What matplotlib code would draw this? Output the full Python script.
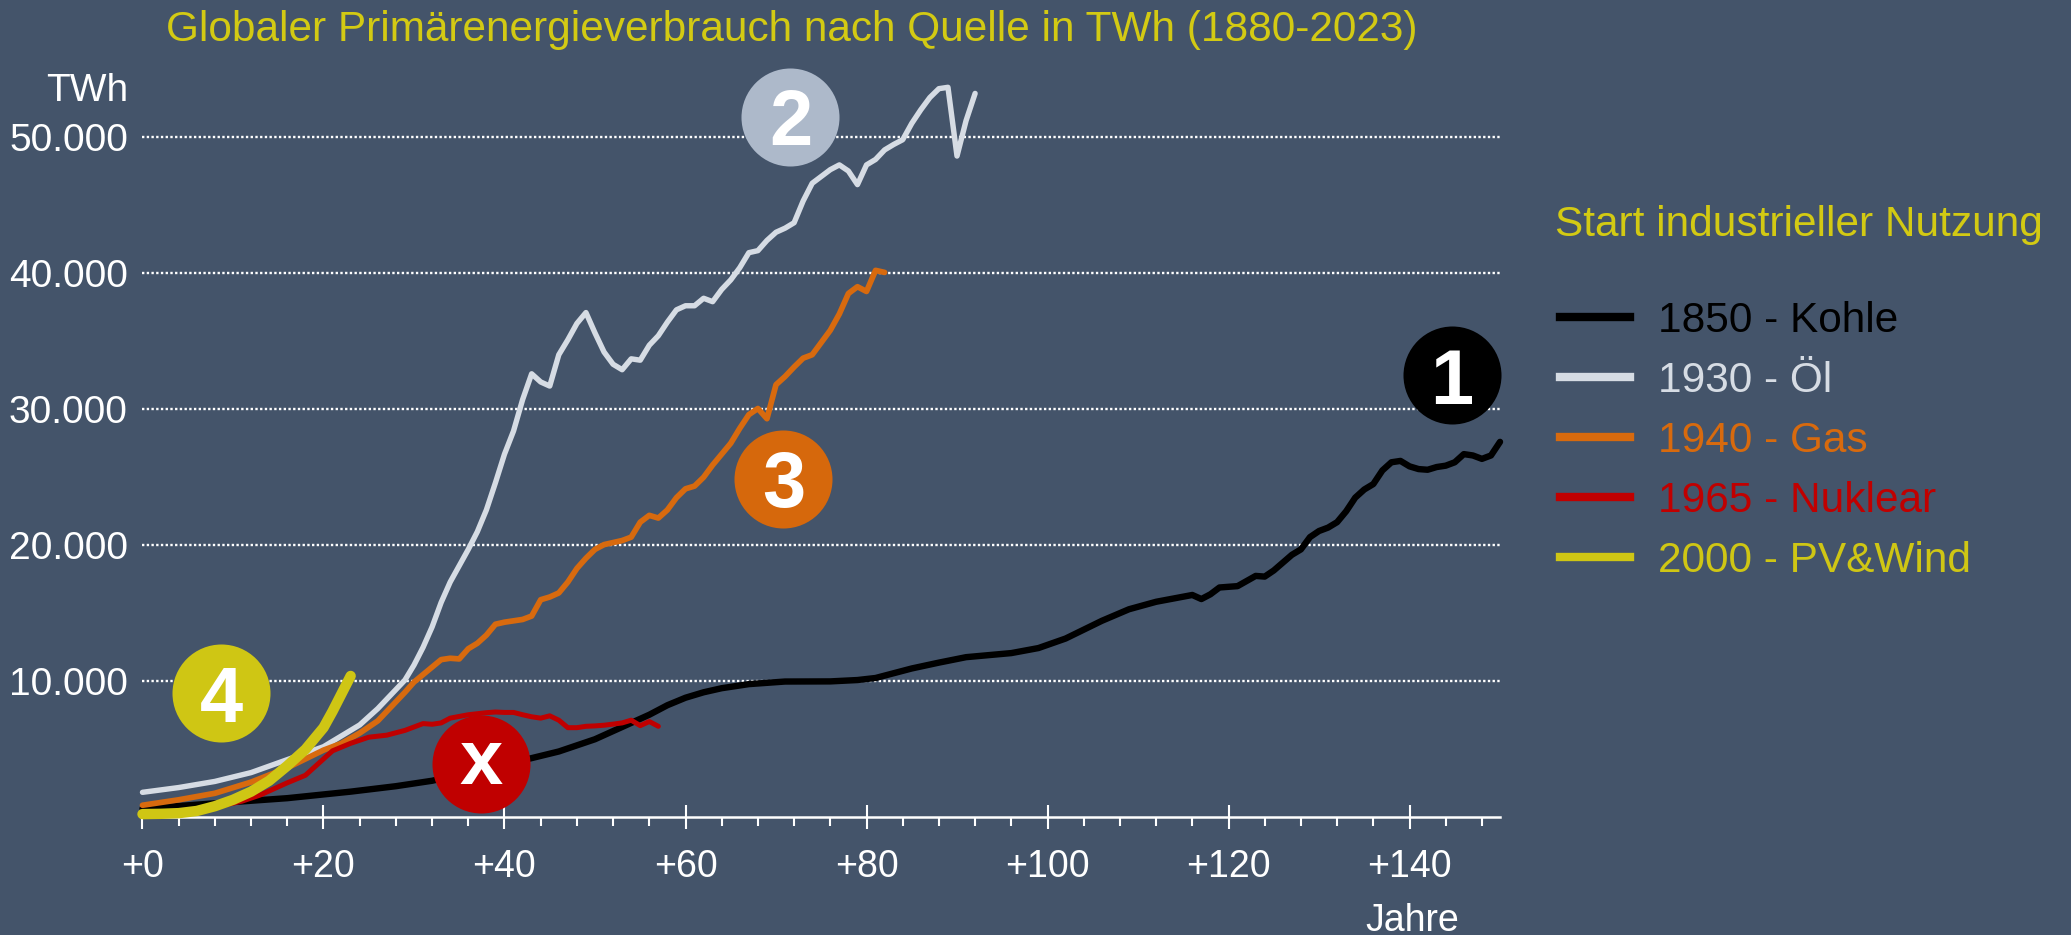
"""Globaler Primaerenergieverbrauch nach Quelle, ab Start der industriellen Nutzung."""

import matplotlib

matplotlib.use("Agg")
import matplotlib.pyplot as plt  # noqa: E402
from matplotlib.lines import Line2D  # noqa: E402
from matplotlib.ticker import FuncFormatter, MultipleLocator  # noqa: E402

# Jahre seit Start der Nutzung -> Verbrauch in TWh
coal_years = [0, 8, 16, 23, 28, 32, 36, 40, 42, 46, 50, 53, 56, 58, 60, 62, 64, 67,
              71, 76, 79, 81, 83, 85, 88, 91, 96, 99, 102, 106, 109, 112, 114, 116,
              117, 118, 119, 121, 123, 124, 125, 127, 128, 129, 130, 131, 132, 133,
              134, 135, 136, 137, 138, 139, 140, 141, 142, 143, 144, 145, 146, 147,
              148, 149, 150]
coal_twh = [650, 1040, 1420, 1900, 2300, 2700, 3300, 3900, 4200, 4850, 5750, 6650,
            7550, 8250, 8800, 9200, 9500, 9800, 9990, 10000, 10100, 10250, 10600,
            10950, 11380, 11780, 12080, 12450, 13150, 14450, 15300, 15850, 16100,
            16350, 16050, 16400, 16900, 17000, 17750, 17700, 18150, 19300, 19700,
            20600, 21050, 21300, 21700, 22500, 23500, 24100, 24500, 25500, 26100,
            26200, 25800, 25600, 25550, 25750, 25850, 26100, 26700, 26600, 26350,
            26600, 27600]

oil_years = [0, 4, 8, 12, 16, 20, 22, 24, 26, 27, 28, 29, 30, 31, 32, 33, 34, 35, 36,
             37, 38, 39, 40, 41, 42, 43, 44, 45, 46, 47, 48, 49, 50, 51, 52, 53, 54,
             55, 56, 57, 58, 59, 60, 61, 62, 63, 64, 65, 66, 67, 68, 69, 70, 71, 72,
             73, 74, 75, 76, 77, 78, 79, 80, 81, 82, 83, 84, 85, 86, 87, 88, 89, 90,
             91, 92]
oil_twh = [1850, 2200, 2650, 3300, 4250, 5200, 6000, 6800, 8000, 8700, 9400, 10100,
           11200, 12500, 14000, 15800, 17300, 18500, 19700, 21000, 22600, 24600,
           26700, 28400, 30700, 32600, 32000, 31700, 34000, 35100, 36300, 37100,
           35600, 34200, 33300, 32900, 33700, 33600, 34700, 35400, 36400, 37300,
           37600, 37600, 38150, 37900, 38800, 39500, 40400, 41500, 41650, 42400,
           43000, 43300, 43700, 45300, 46600, 47100, 47600, 47950, 47500, 46500,
           47950, 48350, 49050, 49450, 49800, 51000, 52000, 52900, 53550, 53650,
           48600, 51200, 53200]

gas_years = [0, 4, 8, 12, 16, 18, 20, 22, 24, 26, 28, 29, 30, 31, 32, 33, 34, 35, 36,
             37, 38, 39, 40, 41, 42, 43, 44, 45, 46, 47, 48, 49, 50, 51, 52, 53, 54,
             55, 56, 57, 58, 59, 60, 61, 62, 63, 64, 65, 66, 67, 68, 69, 70, 71, 72,
             73, 74, 75, 76, 77, 78, 79, 80, 81, 82]
gas_twh = [900, 1300, 1780, 2600, 3650, 4300, 4950, 5450, 6200, 7100, 8500, 9200,
           9950, 10500, 11050, 11600, 11700, 11650, 12400, 12800, 13400, 14200, 14350,
           14450, 14550, 14800, 16000, 16200, 16500, 17300, 18300, 19050, 19700, 20050,
           20200, 20350, 20600, 21700, 22200, 22000, 22600, 23500, 24150, 24350, 25000,
           25900, 26700, 27500, 28600, 29600, 30050, 29300, 31800, 32400, 33100, 33750,
           34000, 34900, 35800, 37000, 38500, 39000, 38650, 40200, 40050]

nuclear_years = [0, 3, 6, 9, 11, 13, 16, 18, 20, 21, 23, 25, 27, 29, 31, 32, 33, 34,
                 36, 38, 39, 40, 41, 42, 43, 44, 45, 46, 47, 48, 49, 50, 51, 52, 53,
                 54, 55, 56, 57]
nuclear_twh = [150, 300, 550, 900, 1200, 1650, 2550, 3100, 4300, 4900, 5450, 5900,
               6050, 6400, 6900, 6850, 6950, 7300, 7550, 7700, 7750, 7720, 7720, 7550,
               7400, 7300, 7470, 7150, 6600, 6600, 6700, 6730, 6780, 6860, 6950, 7150,
               6750, 7050, 6700]

pv_years = [0, 2, 4, 6, 8, 10, 12, 14, 16, 18, 20, 21, 22, 23]
pv_twh = [250, 270, 320, 480, 830, 1300, 1900, 2700, 3800, 5000, 6600, 7800, 9100, 10400]

labels = ["1850 - Kohle", "1930 - Öl", "1940 - Gas", "1965 - Nuklear", "2000 - PV&Wind"]
x_ticks = [0, 20, 40, 60, 80, 100, 120, 140]
y_ticks = [10000, 20000, 30000, 40000, 50000]

BG = "#44546A"
COAL = "#000000"
OIL = "#D6DCE4"
GAS = "#D86A0E"
NUC = "#C00000"
PV = "#CFC614"
TITLE = "#D3CA13"

plt.rcParams["font.family"] = ["Liberation Sans", "DejaVu Sans"]

fig = plt.figure(figsize=(20.71, 9.35), dpi=100, facecolor=BG)
ax = fig.add_axes([0.0688, 0.12567, 0.6555, 0.8006], facecolor=BG)

series = [
    (coal_years, coal_twh, COAL, 4.6),
    (oil_years, oil_twh, OIL, 3.9),
    (gas_years, gas_twh, GAS, 4.1),
    (nuclear_years, nuclear_twh, NUC, 3.6),
    (pv_years, pv_twh, PV, 7.5),
]
for xs, ys, color, lw in series:
    ax.plot(xs, ys, color=color, lw=lw, solid_capstyle="round",
            solid_joinstyle="round", zorder=3, clip_on=False)

ax.set_xlim(0, 150)
ax.set_ylim(0, 55000)

# Achsen
for side in ("left", "right", "top"):
    ax.spines[side].set_visible(False)
ax.spines["bottom"].set_color("white")
ax.spines["bottom"].set_linewidth(1.8)

ax.set_xticks(x_ticks)
ax.set_xticklabels([f"+{t}" for t in x_ticks])
ax.xaxis.set_minor_locator(MultipleLocator(4))
ax.tick_params(axis="x", which="major", direction="inout", length=17, width=1.5,
               color="white", labelcolor="white", labelsize=27, pad=14)
ax.tick_params(axis="x", which="minor", direction="out", length=6.5, width=1.5,
               color="white")

ax.set_yticks(y_ticks)
ax.yaxis.set_major_formatter(FuncFormatter(lambda v, _: f"{v:,.0f}".replace(",", ".")))
ax.tick_params(axis="y", length=0, labelcolor="white", labelsize=28, pad=10.5)
ax.yaxis.grid(True, color="white", lw=1.7, linestyle=(0, (1, 1)), zorder=1)
ax.set_axisbelow(True)

# Nummern-Badges
badges = [
    (144.7, 32500, "1", COAL),
    (71.6, 51500, "2", "#ADB9CA"),
    (70.8, 24900, "3", "#D6680C"),
    (37.4, 3950, "x", NUC),
    (8.7, 9130, "4", PV),
]
for bx, by, txt, color in badges:
    ax.scatter([bx], [by], s=4980, color=color, linewidths=0, zorder=5, clip_on=False)
    ax.text(bx, by, txt, ha="center", va="center" if txt == "x" else "center_baseline",
            color="white", fontsize=56, fontweight="bold", zorder=6)

fig.text(0.3823, 1 - 41 / 935, "Globaler Primärenergieverbrauch nach Quelle in TWh (1880-2023)",
         color=TITLE, fontsize=30.5, ha="center", va="baseline")
fig.text(128 / 2071, 1 - 101 / 935, "TWh", color="white", fontsize=28,
         ha="right", va="baseline")
fig.text(1459 / 2071, 4 / 935, "Jahre", color="white", fontsize=27,
         ha="right", va="baseline")

# Legende
fig.text(1555 / 2071, 1 - 236 / 935, "Start industrieller Nutzung", color=TITLE,
         fontsize=30.5, ha="left", va="baseline")
handles = [Line2D([], [], color=c, lw=6) for _, _, c, _ in series]
leg = ax.legend(handles, labels, loc="upper left", bbox_to_anchor=(1560 / 2071, 1 - 301 / 935),
                bbox_transform=fig.transFigure, frameon=False, fontsize=30.5,
                handlelength=1.65, handletextpad=0.66, labelspacing=0.47,
                borderpad=0, borderaxespad=0)
for text, (_, _, color, _) in zip(leg.get_texts(), series):
    text.set_color(color)

fig.savefig("out.png", dpi=100, facecolor=BG)
